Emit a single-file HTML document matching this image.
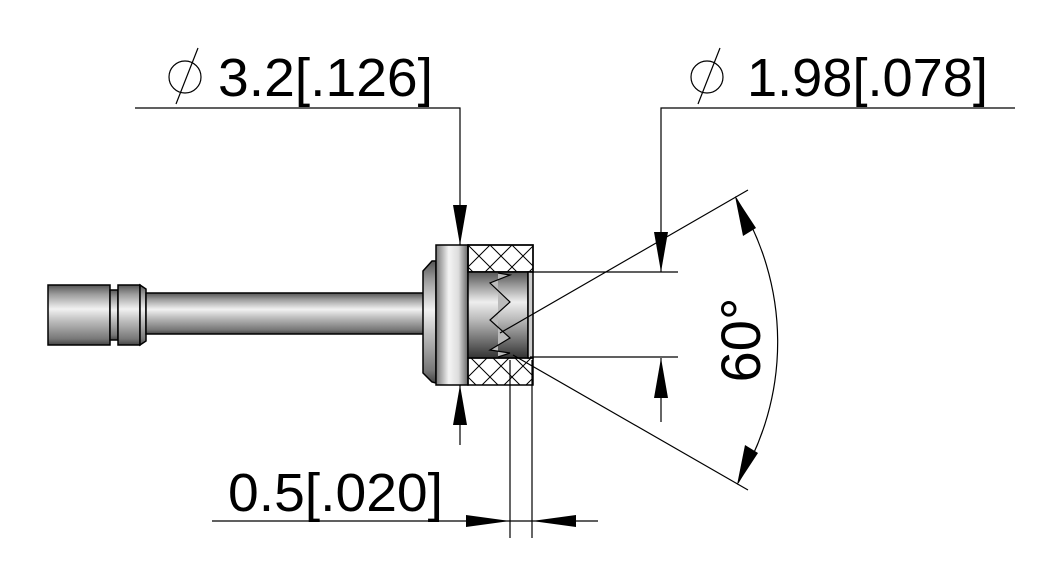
<!DOCTYPE html>
<html><head><meta charset="utf-8"><style>html,body{margin:0;padding:0;background:#fff}svg{display:block}</style></head>
<body>
<svg width="1063" height="587" viewBox="0 0 1063 587" xmlns="http://www.w3.org/2000/svg" font-family="Liberation Sans, sans-serif">
<defs>
<linearGradient id="cy" x1="0" y1="0" x2="0" y2="1">
<stop offset="0" stop-color="#555"/><stop offset="0.15" stop-color="#9a9a9a"/><stop offset="0.4" stop-color="#f2f2f2"/><stop offset="0.6" stop-color="#bdbdbd"/><stop offset="0.9" stop-color="#777"/><stop offset="1" stop-color="#444"/>
</linearGradient>
<linearGradient id="cx" x1="0" y1="0" x2="1" y2="0">
<stop offset="0" stop-color="#777"/><stop offset="0.4" stop-color="#f4f4f4"/><stop offset="0.7" stop-color="#ddd"/><stop offset="1" stop-color="#666"/>
</linearGradient>
<linearGradient id="in" x1="0" y1="0" x2="0" y2="1">
<stop offset="0" stop-color="#555"/><stop offset="0.35" stop-color="#eee"/><stop offset="0.55" stop-color="#bbb"/><stop offset="1" stop-color="#333"/>
</linearGradient>
<pattern id="hx" width="22" height="22" patternUnits="userSpaceOnUse" x="468" y="245">
<path d="M0 0L22 22M22 0L0 22" stroke="#000" stroke-width="1"/>
</pattern>
</defs>
<g stroke="#000" stroke-width="1.5">
<rect x="48" y="285" width="62" height="60" fill="url(#cy)"/>
<rect x="110" y="290" width="8" height="50" fill="url(#cy)"/>
<rect x="118" y="285" width="22" height="60" fill="url(#cy)"/>
<polygon points="140,285 146,289 146,341 140,345" fill="url(#cy)"/>
<rect x="146" y="293" width="278" height="41" fill="url(#cy)"/>
<polygon points="423,271 432,261 436,261 436,383 432,382 423,373" fill="url(#cy)"/>
<rect x="436" y="245" width="32" height="140" fill="url(#cx)"/>
<rect x="468" y="245" width="65" height="27" fill="url(#pattern)"/>
<rect x="468" y="245" width="65" height="27" fill="url(#hx)"/>
<rect x="468" y="358" width="65" height="27" fill="url(#hx)"/>
<rect x="468" y="272" width="60" height="86" fill="url(#in)"/>
<rect x="528" y="272" width="5" height="86" fill="#ccc"/>
<polyline points="498,273 510,275 490,283 510,302 490,320 510,338 490,350 510,353 498,357" fill="#bbb" stroke-width="1.2"/>
</g>
<g stroke="#000" stroke-width="1.2" fill="none">
<!-- 3.2 dim -->
<path d="M135 108H460V245"/>
<path d="M460 385V445"/>
<!-- 1.98 dim -->
<path d="M1015 108H661V272"/>
<path d="M661 358V422"/>
<path d="M530 272H678M530 357H678"/>
<!-- 0.5 dim -->
<path d="M510 360V538M532 360V538M212 521H598"/>
<!-- angle -->
<path d="M500 333L748 190M513 355L748 490"/>
<path d="M736 198A270 270 0 0 1 738 483"/>
<circle cx="185" cy="77" r="16"/><path d="M176 104L198 48"/>
<circle cx="707" cy="77" r="16"/><path d="M698 104L720 48"/>
</g>
<g fill="#000">
<polygon points="460,245 453,205 467,205"/>
<polygon points="460,385 453,425 467,425"/>
<polygon points="661,272 654,232 668,232"/>
<polygon points="661,358 654,398 668,398"/>
<polygon points="510,521 466,515 466,527"/>
<polygon points="532,521 576,515 576,527"/>
<polygon points="735,196 743,236 756,228"/>
<polygon points="737,485 745,445 758,453"/>
</g>
<g font-size="54" fill="#000">
<text x="218" y="96" textLength="215" lengthAdjust="spacingAndGlyphs">3.2[.126]</text>
<text x="747" y="96" textLength="241" lengthAdjust="spacingAndGlyphs">1.98[.078]</text>
<text x="228" y="511" textLength="215" lengthAdjust="spacingAndGlyphs">0.5[.020]</text>
<text transform="translate(760,340) rotate(-90)" text-anchor="middle" x="0" y="0" font-size="56">60°</text>
</g>
</svg>
</body></html>
